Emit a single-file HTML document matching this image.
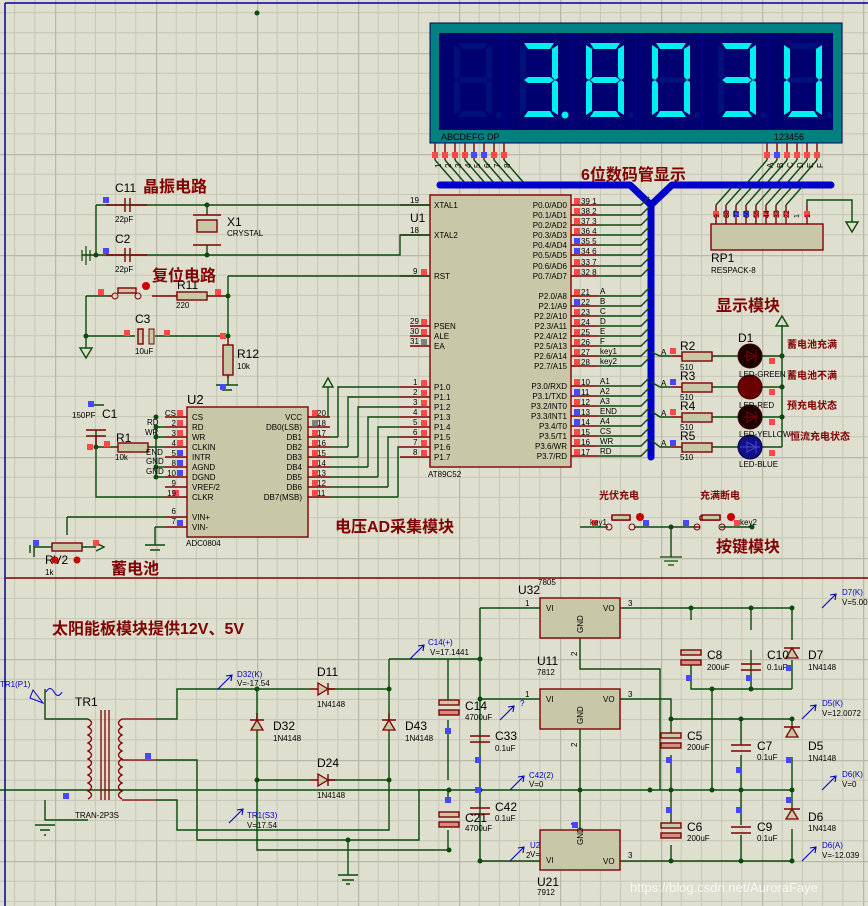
<!DOCTYPE html>
<html><head><meta charset="utf-8"><style>
html,body{margin:0;padding:0;background:#dfdfd0}
svg{display:block}
text{font-family:"Liberation Sans","Noto Sans CJK SC",sans-serif}
.w{stroke:#0a4a0a;stroke-width:1.4;fill:none}
.p{stroke:#800000;stroke-width:1.4;fill:none}
.b{fill:#c8c8a8;stroke:#800000;stroke-width:1.4}
.t{font-size:8px;fill:#000}
.n{font-size:12px;fill:#000}
.cn{font-family:"Liberation Sans","Noto Sans CJK SC",sans-serif;font-weight:bold;fill:#800000}
.pr{fill:#ff4848}.pb{fill:#4848ff}
.bl{font-size:8px;fill:#0000cc}
</style></head><body>
<svg width="868" height="906" viewBox="0 0 868 906" xmlns="http://www.w3.org/2000/svg">
<defs>
<pattern id="g" width="101" height="101" patternUnits="userSpaceOnUse" x="55" y="53">
<path d="M20.2 0V101M40.4 0V101M60.6 0V101M80.8 0V101M0 20.2H101M0 40.4H101M0 60.6H101M0 80.8H101" stroke="#c6c6b6" stroke-width="1"/>
<path d="M0 0V101M0 0H101" stroke="#b8b8a8" stroke-width="2.5"/>
</pattern>
<polygon id="sa" points="4,0 34,0 30,6 8,6"/>
<polygon id="sb" points="38,2 38,35 35,37 32,34 32,6"/>
<polygon id="sc" points="38,39 38,72 32,68 32,40 35,37"/>
<polygon id="sd" points="8,68 30,68 34,74 4,74"/>
<polygon id="se" points="0,39 3,37 6,40 6,68 0,72"/>
<polygon id="sf" points="0,2 6,6 6,34 3,37 0,35"/>
<polygon id="sg" points="4,37 8,34 30,34 34,37 30,40 8,40"/>
<g id="all" fill="#00107a"><use href="#sa"/><use href="#sb"/><use href="#sc"/><use href="#sd"/><use href="#se"/><use href="#sf"/><use href="#sg"/><circle cx="45" cy="72" r="3"/></g>
</defs>
<rect width="868" height="906" fill="url(#g)"/>
<path d="M5 3H868M5 3V906" stroke="#0000a0" stroke-width="1.5" fill="none"/>
<path d="M5 578H868" stroke="#800000" stroke-width="1.5"/>
<circle cx="257" cy="13" r="2.5" fill="#0a4a0a"/>

<!-- display -->
<rect x="430" y="23" width="412" height="120" fill="#008080" stroke="#000060"/>
<rect x="439" y="33" width="394" height="97" fill="#000070"/>
<g stroke="#000090" stroke-width="1"><path d="M505 33V130M571 33V130M636 33V130M702 33V130M768 33V130"/></g>
<g transform="translate(454,43)"><use href="#all"/></g>
<g transform="translate(520,43)"><use href="#all"/><g fill="#00f0f0"><use href="#sa"/><use href="#sb"/><use href="#sc"/><use href="#sd"/><use href="#sg"/><circle cx="45" cy="72" r="3.5"/></g></g>
<g transform="translate(586,43)"><use href="#all"/><g fill="#00f0f0"><use href="#sa"/><use href="#sb"/><use href="#sc"/><use href="#sd"/><use href="#se"/><use href="#sf"/><use href="#sg"/></g></g>
<g transform="translate(652,43)"><use href="#all"/><g fill="#00f0f0"><use href="#sa"/><use href="#sb"/><use href="#sc"/><use href="#sd"/><use href="#se"/><use href="#sf"/></g></g>
<g transform="translate(718,43)"><use href="#all"/><g fill="#00f0f0"><use href="#sa"/><use href="#sb"/><use href="#sc"/><use href="#sd"/><use href="#sg"/></g></g>
<g transform="translate(784,43)"><use href="#all"/><g fill="#00f0f0"><use href="#sb"/><use href="#sc"/><use href="#sd"/><use href="#se"/><use href="#sf"/></g></g>
<text x="441" y="140" font-size="9" fill="#000">ABCDEFG  DP</text>
<text x="774" y="140" font-size="9" fill="#000">123456</text>
<!-- display pins -->
<g class="p"><path d="M435 143V160M445 143V160M455 143V160M465 143V160M474 143V160M484 143V160M494 143V160M504 143V160M767 143V160M777 143V160M787 143V160M797 143V160M807 143V160M817 143V160"/></g>
<g class="w"><path d="M435 160L455 183M445 160L465 183M455 160L475 183M465 160L485 183M474 160L494 183M484 160L504 183M494 160L514 183M504 160L524 183M767 160L747 183M777 160L757 183M787 160L767 183M797 160L777 183M807 160L787 183M817 160L797 183"/></g>
<g class="pr"><rect x="432" y="152" width="6" height="6"/><rect x="442" y="152" width="6" height="6"/><rect x="452" y="152" width="6" height="6"/><rect x="462" y="152" width="6" height="6"/><rect x="491" y="152" width="6" height="6"/><rect x="501" y="152" width="6" height="6"/><rect x="764" y="152" width="6" height="6"/><rect x="784" y="152" width="6" height="6"/><rect x="794" y="152" width="6" height="6"/><rect x="804" y="152" width="6" height="6"/><rect x="814" y="152" width="6" height="6"/></g>
<g class="pb"><rect x="471" y="152" width="6" height="6"/><rect x="481" y="152" width="6" height="6"/><rect x="774" y="152" width="6" height="6"/></g>
<g font-size="8" fill="#000"><text transform="translate(441,168) rotate(-90)">1</text><text transform="translate(451,168) rotate(-90)">2</text><text transform="translate(461,168) rotate(-90)">3</text><text transform="translate(471,168) rotate(-90)">4</text><text transform="translate(480,168) rotate(-90)">5</text><text transform="translate(490,168) rotate(-90)">6</text><text transform="translate(500,168) rotate(-90)">7</text><text transform="translate(510,168) rotate(-90)">8</text>
<text transform="translate(773,168) rotate(-90)">A</text><text transform="translate(783,168) rotate(-90)">B</text><text transform="translate(793,168) rotate(-90)">C</text><text transform="translate(803,168) rotate(-90)">D</text><text transform="translate(813,168) rotate(-90)">E</text><text transform="translate(823,168) rotate(-90)">F</text></g>
<text x="581" y="180" class="cn" font-size="16">6位数码管显示</text>
<!-- bus -->
<path d="M440 185H630L651 205L672 185H831M651 205V457" stroke="#0000cc" stroke-width="7" fill="none" stroke-linecap="round" stroke-linejoin="round"/>

<!-- RP1 -->
<rect x="711" y="224" width="112" height="26" class="b"/>
<g class="p"><path d="M716 205V224M726 205V224M736 205V224M746 205V224M756 205V224M766 205V224M776 205V224M786 205V224M807 205V224"/></g>
<g class="w"><path d="M716 205L732 187M726 205L742 187M736 205L752 187M746 205L762 187M756 205L772 187M766 205L782 187M776 205L792 187M786 205L802 187M807 205V200H852V222"/><path d="M846 222H858L852 232Z"/></g>
<g class="pr"><rect x="713" y="211" width="6" height="6"/><rect x="723" y="211" width="6" height="6"/><rect x="753" y="211" width="6" height="6"/><rect x="763" y="211" width="6" height="6"/><rect x="773" y="211" width="6" height="6"/><rect x="783" y="211" width="6" height="6"/><rect x="804" y="211" width="6" height="6"/></g>
<g class="pb"><rect x="733" y="211" width="6" height="6"/><rect x="743" y="211" width="6" height="6"/></g>
<g font-size="7" fill="#000"><text transform="translate(719,218) rotate(-90)">9</text><text transform="translate(729,218) rotate(-90)">88</text><text transform="translate(739,218) rotate(-90)">77</text><text transform="translate(749,218) rotate(-90)">66</text><text transform="translate(759,218) rotate(-90)">55</text><text transform="translate(769,218) rotate(-90)">44</text><text transform="translate(779,218) rotate(-90)">33</text><text transform="translate(789,218) rotate(-90)">22</text><text transform="translate(799,218) rotate(-90)">1</text><text transform="translate(810,218) rotate(-90)">1</text></g>
<text x="711" y="262" class="n" font-size="11">RP1</text><text x="711" y="273" class="t" font-size="7">RESPACK-8</text>

<!-- U1 -->
<rect x="430" y="195" width="141" height="272" class="b"/>
<text x="410" y="222" class="n" font-size="13">U1</text>
<text x="428" y="477" class="t">AT89C52</text>
<g class="p"><path d="M400 205H430M400 235H430M400 276H430M410 326H430M410 336H430M410 346H430M400 387H430M400 397H430M400 407H430M400 417H430M400 427H430M400 437H430M400 447H430M400 457H430"/>
<path d="M571 205H598M571 215H598M571 225H598M571 235H598M571 245H598M571 255H598M571 266H598M571 276H598M571 296H598M571 306H598M571 316H598M571 326H598M571 336H598M571 346H598M571 356H598M571 366H598M571 386H598M571 396H598M571 406H598M571 416H598M571 426H598M571 436H598M571 446H598M571 456H598"/></g>
<g class="w"><path d="M598 205H641L649 197M598 215H641L649 207M598 225H641L649 217M598 235H641L649 227M598 245H641L649 237M598 255H641L649 247M598 266H641L649 258M598 276H641L649 268M598 296H641L649 288M598 306H641L649 298M598 316H641L649 308M598 326H641L649 318M598 336H641L649 328M598 346H641L649 338M598 356H641L649 348M598 366H641L649 358M598 386H641L649 378M598 396H641L649 388M598 406H641L649 398M598 416H641L649 408M598 426H641L649 418M598 436H641L649 428M598 446H641L649 438M598 456H641L649 448"/></g>
<g class="pr"><rect x="574" y="198" width="6" height="6"/><rect x="574" y="208" width="6" height="6"/><rect x="574" y="218" width="6" height="6"/><rect x="574" y="228" width="6" height="6"/><rect x="574" y="259" width="6" height="6"/><rect x="574" y="269" width="6" height="6"/><rect x="574" y="289" width="6" height="6"/><rect x="574" y="309" width="6" height="6"/><rect x="574" y="319" width="6" height="6"/><rect x="574" y="329" width="6" height="6"/><rect x="574" y="339" width="6" height="6"/><rect x="574" y="349" width="6" height="6"/><rect x="574" y="359" width="6" height="6"/><rect x="574" y="379" width="6" height="6"/><rect x="574" y="399" width="6" height="6"/><rect x="574" y="429" width="6" height="6"/><rect x="574" y="439" width="6" height="6"/><rect x="574" y="449" width="6" height="6"/>
<rect x="421" y="269" width="6" height="6"/><rect x="421" y="319" width="6" height="6"/><rect x="421" y="329" width="6" height="6"/><rect x="421" y="380" width="6" height="6"/><rect x="421" y="390" width="6" height="6"/><rect x="421" y="400" width="6" height="6"/><rect x="421" y="410" width="6" height="6"/><rect x="421" y="420" width="6" height="6"/><rect x="421" y="430" width="6" height="6"/><rect x="421" y="440" width="6" height="6"/><rect x="421" y="450" width="6" height="6"/></g>
<g class="pb"><rect x="574" y="238" width="6" height="6"/><rect x="574" y="248" width="6" height="6"/><rect x="574" y="299" width="6" height="6"/><rect x="574" y="389" width="6" height="6"/><rect x="574" y="409" width="6" height="6"/><rect x="574" y="419" width="6" height="6"/></g>
<rect x="421" y="339" width="6" height="6" fill="#808080"/>
<g class="t" font-size="7.5">
<text x="434" y="208">XTAL1</text><text x="434" y="238">XTAL2</text><text x="434" y="279">RST</text><text x="434" y="329">PSEN</text><text x="434" y="339">ALE</text><text x="434" y="349">EA</text>
<text x="434" y="390">P1.0</text><text x="434" y="400">P1.1</text><text x="434" y="410">P1.2</text><text x="434" y="420">P1.3</text><text x="434" y="430">P1.4</text><text x="434" y="440">P1.5</text><text x="434" y="450">P1.6</text><text x="434" y="460">P1.7</text>
<g text-anchor="end"><text x="567" y="208">P0.0/AD0</text><text x="567" y="218">P0.1/AD1</text><text x="567" y="228">P0.2/AD2</text><text x="567" y="238">P0.3/AD3</text><text x="567" y="248">P0.4/AD4</text><text x="567" y="258">P0.5/AD5</text><text x="567" y="269">P0.6/AD6</text><text x="567" y="279">P0.7/AD7</text>
<text x="567" y="299">P2.0/A8</text><text x="567" y="309">P2.1/A9</text><text x="567" y="319">P2.2/A10</text><text x="567" y="329">P2.3/A11</text><text x="567" y="339">P2.4/A12</text><text x="567" y="349">P2.5/A13</text><text x="567" y="359">P2.6/A14</text><text x="567" y="369">P2.7/A15</text>
<text x="567" y="389">P3.0/RXD</text><text x="567" y="399">P3.1/TXD</text><text x="567" y="409">P3.2/INT0</text><text x="567" y="419">P3.3/INT1</text><text x="567" y="429">P3.4/T0</text><text x="567" y="439">P3.5/T1</text><text x="567" y="449">P3.6/WR</text><text x="567" y="459">P3.7/RD</text></g>
<text x="581" y="204">39 1</text><text x="581" y="214">38 2</text><text x="581" y="224">37 3</text><text x="581" y="234">36 4</text><text x="581" y="244">35 5</text><text x="581" y="254">34 6</text><text x="581" y="265">33 7</text><text x="581" y="275">32 8</text>
<text x="581" y="295">21</text><text x="581" y="305">22</text><text x="581" y="315">23</text><text x="581" y="325">24</text><text x="581" y="335">25</text><text x="581" y="345">26</text><text x="581" y="355">27</text><text x="581" y="365">28</text>
<text x="581" y="385">10</text><text x="581" y="395">11</text><text x="581" y="405">12</text><text x="581" y="415">13</text><text x="581" y="425">14</text><text x="581" y="435">15</text><text x="581" y="445">16</text><text x="581" y="455">17</text>
<text x="600" y="294">A</text><text x="600" y="304">B</text><text x="600" y="314">C</text><text x="600" y="324">D</text><text x="600" y="334">E</text><text x="600" y="344">F</text><text x="600" y="354">key1</text><text x="600" y="364">key2</text>
<text x="600" y="384">A1</text><text x="600" y="394">A2</text><text x="600" y="404">A3</text><text x="600" y="414">END</text><text x="600" y="424">A4</text><text x="600" y="434">CS</text><text x="600" y="444">WR</text><text x="600" y="454">RD</text>
<text x="410" y="203">19</text><text x="410" y="233">18</text><text x="413" y="274">9</text><text x="410" y="324">29</text><text x="410" y="334">30</text><text x="410" y="344">31</text>
<text x="413" y="385">1</text><text x="413" y="395">2</text><text x="413" y="405">3</text><text x="413" y="415">4</text><text x="413" y="425">5</text><text x="413" y="435">6</text><text x="413" y="445">7</text><text x="413" y="455">8</text></g>

<!-- LEDs -->
<g class="w"><path d="M651 352L660 356H672M651 382L660 387H672M651 411L660 417H672M651 440L660 447H672M712 356H740M712 387H740M712 417H740M712 447H740M760 356H782M760 387H782M760 417H782M760 447H782M782 325V447"/><path d="M776 326L782 316L788 326Z"/></g>
<g class="p"><path d="M672 356H682M672 387H682M672 417H682M672 447H682"/></g>
<g class="b"><rect x="682" y="352" width="30" height="9"/><rect x="682" y="383" width="30" height="9"/><rect x="682" y="413" width="30" height="9"/><rect x="682" y="443" width="30" height="9"/></g>
<circle cx="750" cy="356" r="12" fill="#1a0000" stroke="#400000"/><circle cx="750" cy="387" r="12" fill="#6a0000" stroke="#400000"/><circle cx="750" cy="417" r="12" fill="#1a0000" stroke="#400000"/><circle cx="750" cy="447" r="12" fill="#10108a" stroke="#000040"/>
<g stroke="#700000" fill="none" stroke-width="1.2"><path d="M744 356H758M756 350V362M756 356L747 351V361Z"/><path d="M744 417H758M756 411V423M756 417L747 412V422Z"/><path d="M740 447H760M756 441V453M756 447L747 442V452Z" stroke="#4040c0"/></g>
<g fill="#800000"><circle cx="782" cy="356" r="2.5"/><circle cx="782" cy="387" r="2.5"/><circle cx="782" cy="417" r="2.5"/></g>
<g fill="#0a4a0a"><circle cx="782" cy="356" r="2.5"/><circle cx="782" cy="387" r="2.5"/><circle cx="782" cy="417" r="2.5"/></g>
<g class="pr"><rect x="670" y="348" width="6" height="6"/><rect x="670" y="409" width="6" height="6"/><rect x="769" y="358" width="6" height="6"/><rect x="769" y="389" width="6" height="6"/><rect x="769" y="419" width="6" height="6"/><rect x="769" y="450" width="6" height="6"/></g>
<g class="pb"><rect x="670" y="379" width="6" height="6"/><rect x="670" y="440" width="6" height="6"/></g>
<g class="t" font-size="7"><text x="661" y="355">A</text><text x="661" y="386">A</text><text x="661" y="416">A</text><text x="661" y="446">A</text></g>
<g class="n"><text x="680" y="350">R2</text><text x="680" y="380">R3</text><text x="680" y="410">R4</text><text x="680" y="440">R5</text><text x="738" y="342">D1</text></g>
<g class="t" font-size="7"><text x="680" y="370">510</text><text x="680" y="400">510</text><text x="680" y="430">510</text><text x="680" y="460">510</text><text x="739" y="377">LED-GREEN</text><text x="739" y="408">LED-RED</text><text x="739" y="437">LED-YELLOW</text><text x="739" y="467">LED-BLUE</text></g>
<text x="716" y="311" class="cn" font-size="16">显示模块</text>
<g class="cn" font-size="10"><text x="787" y="348">蓄电池充满</text><text x="787" y="379">蓄电池不满</text><text x="787" y="409">预充电状态</text><text x="790" y="440">恒流充电状态</text></g>

<!-- keys -->
<g class="w"><path d="M580 527H608M634 527H695M720 527H752M671 527V557"/><path d="M660 557H682M664 561H678M668 565H674" stroke-width="1.2"/></g>
<g class="p"><path d="M612 520H630M612 516H630V520M612 516V520M695 527H700M700 520H720M700 516H720V520M700 516V520"/></g>
<rect x="612" y="515" width="18" height="5" class="b"/><rect x="702" y="515" width="18" height="5" class="b"/>
<g fill="none" stroke="#800000"><circle cx="609" cy="527" r="3"/><circle cx="632" cy="527" r="3"/><circle cx="697" cy="527" r="3"/><circle cx="722" cy="527" r="3"/></g>
<circle cx="640" cy="517" r="4" fill="#cc0000"/><circle cx="731" cy="517" r="4" fill="#cc0000"/>
<g fill="#0a4a0a"><circle cx="671" cy="527" r="2.5"/><circle cx="752" cy="527" r="2.5"/></g>
<rect x="592" y="520" width="6" height="6" class="pr"/><rect x="643" y="520" width="6" height="6" class="pb"/><rect x="683" y="520" width="6" height="6" class="pb"/><rect x="734" y="520" width="6" height="6" class="pr"/>
<text x="590" y="525" class="t" font-size="7">key1</text><text x="740" y="525" class="t" font-size="7">key2</text>
<g class="cn" font-size="10"><text x="599" y="499">光伏充电</text><text x="700" y="499">充满断电</text></g>
<text x="716" y="552" class="cn" font-size="16">按键模块</text>

<!-- crystal / reset -->
<g class="w"><path d="M96 205H430M96 205V255M82 255H400V235H430M207 205V215M207 245V255M228 276H430M228 276V336M86 296H108M86 296V336M86 336V348M86 336H135M155 336H228M228 375V385"/><path d="M80 348H92L86 358Z"/><path d="M82 250V261M86 246V265M90 250V261" stroke-width="1.2"/><path d="M216 385H238M222 390H232"/></g>
<g class="p"><path d="M106 205H125M130 205H147M125 198V212M130 198V212M106 255H125M130 255H147M125 248V262M130 248V262M193 215H221M193 245H221M108 296H112M152 296H177M207 296H228M228 336V345M228 375V378"/></g>
<rect x="197" y="220" width="20" height="12" class="b"/>
<rect x="177" y="292" width="30" height="8" class="b"/><rect x="223" y="345" width="10" height="30" class="b"/>
<rect x="138" y="329" width="5" height="15" class="b"/><rect x="149" y="329" width="5" height="15" fill="#c8c8a8" stroke="#800000"/>
<rect x="118" y="288" width="18" height="5" class="b"/>
<g fill="none" stroke="#800000"><circle cx="115" cy="296" r="3"/><circle cx="138" cy="296" r="3"/></g>
<circle cx="146" cy="286" r="4" fill="#cc0000"/>
<g fill="#0a4a0a"><circle cx="96" cy="255" r="2.5"/><circle cx="207" cy="205" r="2.5"/><circle cx="207" cy="255" r="2.5"/><circle cx="228" cy="296" r="2.5"/><circle cx="228" cy="336" r="2.5"/><circle cx="86" cy="336" r="2.5"/></g>
<g class="pb"><rect x="103" y="197" width="6" height="6"/><rect x="103" y="248" width="6" height="6"/><rect x="220" y="384" width="6" height="6"/></g>
<g class="pr"><rect x="98" y="289" width="6" height="6"/><rect x="215" y="289" width="6" height="6"/><rect x="124" y="330" width="6" height="6"/><rect x="164" y="330" width="6" height="6"/><rect x="220" y="333" width="6" height="6"/></g>
<g class="n"><text x="115" y="192">C11</text><text x="115" y="243">C2</text><text x="227" y="226">X1</text><text x="177" y="289">R11</text><text x="135" y="323">C3</text><text x="237" y="358">R12</text></g>
<g class="t" font-size="7"><text x="115" y="222">22pF</text><text x="115" y="272">22pF</text><text x="227" y="236">CRYSTAL</text><text x="176" y="308">220</text><text x="135" y="354">10uF</text><text x="237" y="369">10k</text></g>
<text x="143" y="192" class="cn" font-size="16">晶振电路</text>
<text x="152" y="281" class="cn" font-size="16">复位电路</text>

<!-- U2 ADC -->
<rect x="187" y="407" width="121" height="130" class="b"/>
<g class="p"><path d="M165 417H187M165 427H187M165 437H187M165 447H187M165 457H187M165 467H187M165 477H187M165 487H187M165 497H187M165 517H187M165 527H187M308 417H330M308 427H330M308 437H330M308 447H330M308 457H330M308 467H330M308 477H330M308 487H330M308 497H330"/></g>
<g class="w"><path d="M156 427V477M156 467H165M156 477H165M156 427H165M156 437H165M96 447V497H165M96 447H115M96 430V447M147 447H165M67 517H165M67 517V535M155 527H165M155 527V545M328 417V387M338 437H338V387H400M348 447V397H400M358 457V407H400M368 467V417H400M378 477V427H400M388 487V437H400M398 497V447H400M330 437H338M330 447H348M330 457H358M330 467H368M330 477H378M330 487H388M330 497H398M92 405H104"/><path d="M323 387L328 378L333 387Z"/><path d="M145 545H165M150 550H160M145 545H165"/><path d="M30 545V553M34 541V557"/></g>
<g class="p"><path d="M86 430H106M86 436H106M96 436V447M115 447H118M138 447H147"/></g>
<rect x="118" y="443" width="30" height="9" class="b"/>
<rect x="52" y="543" width="30" height="8" class="b"/>
<g class="w"><path d="M34 547H52M82 547H96"/><path d="M96 543L104 547L96 551" /></g>
<g fill="#0a4a0a"><circle cx="156" cy="417" r="2.5"/><circle cx="156" cy="427" r="2.5"/><circle cx="156" cy="437" r="2.5"/><circle cx="156" cy="467" r="2.5"/><circle cx="156" cy="477" r="2.5"/><circle cx="96" cy="447" r="2.5"/></g>
<g class="pr"><rect x="177" y="410" width="6" height="6"/><rect x="177" y="420" width="6" height="6"/><rect x="177" y="430" width="6" height="6"/><rect x="177" y="440" width="6" height="6"/><rect x="173" y="490" width="6" height="6"/><rect x="312" y="410" width="6" height="6"/><rect x="312" y="430" width="6" height="6"/><rect x="312" y="440" width="6" height="6"/><rect x="312" y="450" width="6" height="6"/><rect x="312" y="460" width="6" height="6"/><rect x="312" y="470" width="6" height="6"/><rect x="312" y="480" width="6" height="6"/><rect x="312" y="490" width="6" height="6"/><rect x="104" y="441" width="6" height="6"/><rect x="87" y="444" width="6" height="6"/><rect x="93" y="540" width="6" height="6"/></g>
<g class="pb"><rect x="177" y="450" width="6" height="6"/><rect x="177" y="460" width="6" height="6"/><rect x="177" y="470" width="6" height="6"/><rect x="177" y="520" width="6" height="6"/><rect x="88" y="401" width="6" height="6"/><rect x="33" y="540" width="6" height="6"/></g>
<rect x="312" y="420" width="6" height="6" fill="#808080"/>
<g class="t" font-size="7.5"><text x="192" y="420">CS</text><text x="192" y="430">RD</text><text x="192" y="440">WR</text><text x="192" y="450">CLKIN</text><text x="192" y="460">INTR</text><text x="192" y="470">AGND</text><text x="192" y="480">DGND</text><text x="192" y="490">VREF/2</text><text x="192" y="500">CLKR</text><text x="192" y="520">VIN+</text><text x="192" y="530">VIN-</text>
<g text-anchor="end"><text x="302" y="420">VCC</text><text x="302" y="430">DB0(LSB)</text><text x="302" y="440">DB1</text><text x="302" y="450">DB2</text><text x="302" y="460">DB3</text><text x="302" y="470">DB4</text><text x="302" y="480">DB5</text><text x="302" y="490">DB6</text><text x="302" y="500">DB7(MSB)</text>
<text x="176" y="416">CS</text><text x="176" y="426">2</text><text x="176" y="436">3</text><text x="176" y="446">4</text><text x="176" y="456">5</text><text x="176" y="466">8</text><text x="176" y="476">10</text><text x="176" y="486">9</text><text x="176" y="496">19</text><text x="176" y="514">6</text><text x="176" y="524">7</text></g>
<text x="317" y="416">20</text><text x="317" y="426">18</text><text x="317" y="436">17</text><text x="317" y="446">16</text><text x="317" y="456">15</text><text x="317" y="466">14</text><text x="317" y="476">13</text><text x="317" y="486">12</text><text x="317" y="496">11</text>
<text x="147" y="425">RD</text><text x="145" y="435">WR</text><text x="146" y="455">END</text><text x="146" y="464">GND</text><text x="146" y="474">GND</text>
<text x="186" y="546">ADC0804</text><text x="72" y="418">150PF</text><text x="115" y="460">10k</text><text x="45" y="575">1k</text></g>
<g class="n"><text x="187" y="404" font-size="13">U2</text><text x="102" y="418">C1</text><text x="116" y="442">R1</text><text x="45" y="564">RV2</text></g>
<circle cx="77" cy="560" r="3.5" fill="#cc0000"/><circle cx="55" cy="560" r="3.5" fill="#cc0000"/>
<text x="335" y="532" class="cn" font-size="16">电压AD采集模块</text>
<text x="111" y="574" class="cn" font-size="16">蓄电池</text>

<!-- bottom: power -->
<text x="52" y="634" class="cn" font-size="16">太阳能板模块提供12V、5V</text>
<g class="w"><path d="M45 689V719H88M45 800V820H88M35 825H55M40 830H50M44 835H46M156 719H177V689H257M257 689V720M257 730V780M257 780H310M328 780H389M257 689H310M328 689H389M389 659V720M389 730V830H177V800H156M156 760H197V840H419V790H448M389 659H480M257 780V850H448M348 840V875M338 875H358M342 880H354M346 884H350M448 659V700M448 720V780M448 790V800M448 830V850"/>
<path d="M480 608V861M480 608H540M480 699H540M480 861H540M0 790H792M620 608H792M620 699H671V719H792M620 861H792M580 638V669H660V790M580 729V830M691 608V620M691 660V689H792M751 608V630M751 650V689M792 608V640M792 660V689M712 689V790M671 719V735M671 755V825M671 845V861M741 719V745M741 755V825M741 835V861M792 719V737M792 757V809M792 829V861"/></g>
<!-- transformer -->
<g fill="none" stroke="#800000" stroke-width="1.3"><path d="M88 719q7 4 0 8q7 4 0 8q7 4 0 8q7 4 0 8q7 4 0 8q7 4 0 8q7 4 0 8q7 4 0 8q7 4 0 8q7 4 0 8M122 719q-7 4 0 8q-7 4 0 8q-7 4 0 8q-7 4 0 8q-7 4 0 8q-7 4 0 8q-7 4 0 8q-7 4 0 8q-7 4 0 8q-7 4 0 8M101 710V800M105 710V800M109 710V800M122 719H156M122 760H156M122 800H156"/></g>
<g fill="none" stroke="#0000cc"><path d="M33 690L43 703L30 698Z"/><path d="M46 692q4 -7 8 0t8 0"/></g>
<text x="0" y="687" class="bl">TR1(P1)</text>
<text x="75" y="706" class="n">TR1</text><text x="75" y="818" class="t" font-size="7">TRAN-2P3S</text>
<rect x="145" y="753" width="6" height="6" class="pb"/><rect x="63" y="793" width="6" height="6" class="pb"/>
<!-- diodes -->
<g fill="#c8c8a8" stroke="#800000" stroke-width="1.3"><path d="M318 683L328 689L318 695Z"/><path d="M318 774L328 780L318 786Z"/><path d="M251 730L257 720L263 730Z"/><path d="M383 730L389 720L395 730Z"/></g>
<g class="p"><path d="M310 689H318M328 683V695M328 689H335M310 780H318M328 774V786M328 780H335M250 720H264M382 720H396M257 713V720M389 713V720"/></g>
<g fill="#0a4a0a"><circle cx="257" cy="689" r="2.5"/><circle cx="257" cy="780" r="2.5"/><circle cx="389" cy="689" r="2.5"/><circle cx="389" cy="780" r="2.5"/><circle cx="348" cy="840" r="2.5"/><circle cx="449" cy="790" r="2.5"/><circle cx="480" cy="790" r="2.5"/><circle cx="480" cy="699" r="2.5"/><circle cx="480" cy="659" r="2.5"/><circle cx="449" cy="850" r="2.5"/><circle cx="480" cy="861" r="2.5"/><circle cx="580" cy="790" r="2.5"/><circle cx="650" cy="790" r="2.5"/><circle cx="671" cy="790" r="2.5"/><circle cx="712" cy="790" r="2.5"/><circle cx="741" cy="790" r="2.5"/><circle cx="792" cy="790" r="2.5"/><circle cx="691" cy="608" r="2.5"/><circle cx="751" cy="608" r="2.5"/><circle cx="792" cy="608" r="2.5"/><circle cx="712" cy="689" r="2.5"/><circle cx="751" cy="689" r="2.5"/><circle cx="671" cy="719" r="2.5"/><circle cx="741" cy="719" r="2.5"/><circle cx="792" cy="719" r="2.5"/><circle cx="671" cy="861" r="2.5"/><circle cx="741" cy="861" r="2.5"/><circle cx="792" cy="861" r="2.5"/></g>
<g class="n"><text x="317" y="676">D11</text><text x="317" y="767">D24</text><text x="273" y="730">D32</text><text x="405" y="730">D43</text></g>
<g class="t" font-size="7"><text x="317" y="707">1N4148</text><text x="317" y="798">1N4148</text><text x="273" y="741">1N4148</text><text x="405" y="741">1N4148</text></g>
<!-- probes -->
<g fill="none" stroke="#0000cc" stroke-width="1.1"><path d="M218 689L232 675M226 676L232 675L231 681M229 823L243 809M237 810L243 809L242 815M410 659L424 645M418 646L424 645L423 651M500 720L514 706M508 707L514 706L513 712M510 790L524 776M518 777L524 776L523 782M510 861L524 847M518 848L524 847L523 853M822 608L836 594M830 595L836 594L835 600M802 719L816 705M810 706L816 705L815 711M822 790L836 776M830 777L836 776L835 782M802 861L816 847M810 848L816 847L815 853"/></g>
<g class="bl"><text x="237" y="677">D32(K)</text><text x="247" y="818">TR1(S3)</text><text x="428" y="645">C14(+)</text><text x="520" y="706">?</text><text x="529" y="778">C42(2)</text><text x="530" y="848">U21(VI)</text><text x="842" y="595">D7(K)</text><text x="822" y="706">D5(K)</text><text x="842" y="777">D6(K)</text><text x="822" y="848">D6(A)</text></g>
<g class="t" font-size="7"><text x="237" y="686">V=-17.54</text><text x="247" y="828">V=17.54</text><text x="430" y="655">V=17.1441</text><text x="529" y="787">V=0</text><text x="530" y="857">V=-17.2233</text><text x="842" y="605">V=5.000</text><text x="822" y="716">V=12.0072</text><text x="842" y="787">V=0</text><text x="822" y="858">V=-12.039</text></g>
<!-- regulators -->
<g class="b"><rect x="540" y="598" width="80" height="40"/><rect x="540" y="689" width="80" height="40"/><rect x="540" y="830" width="80" height="40"/></g>
<g class="t" font-size="7.5"><text x="546" y="611">VI</text><text x="603" y="611">VO</text><text x="546" y="702">VI</text><text x="603" y="702">VO</text><text x="546" y="863">VI</text><text x="603" y="864">VO</text>
<text transform="translate(583,633) rotate(-90)">GND</text><text transform="translate(583,724) rotate(-90)">GND</text><text transform="translate(583,845) rotate(-90)">GND</text>
<text x="525" y="606">1</text><text x="628" y="606">3</text><text x="525" y="697">1</text><text x="628" y="697">3</text><text x="526" y="858">2</text><text x="628" y="858">3</text>
<text transform="translate(577,656) rotate(-90)">2</text><text transform="translate(577,747) rotate(-90)">2</text><text transform="translate(577,826) rotate(-90)">1</text>
<text x="537" y="675">7812</text><text x="537" y="895">7912</text><text x="538" y="585">7805</text></g>
<g class="n"><text x="518" y="594">U32</text><text x="537" y="665">U11</text><text x="537" y="886">U21</text></g>
<!-- caps -->
<g class="b"><rect x="439" y="700" width="20" height="5"/><rect x="439" y="710" width="20" height="5" fill="#d09080"/><rect x="439" y="812" width="20" height="5"/><rect x="439" y="822" width="20" height="5" fill="#d09080"/><rect x="681" y="650" width="20" height="5"/><rect x="681" y="660" width="20" height="5" fill="#d09080"/><rect x="661" y="733" width="20" height="5"/><rect x="661" y="743" width="20" height="5" fill="#d09080"/><rect x="661" y="823" width="20" height="5"/><rect x="661" y="833" width="20" height="5" fill="#d09080"/></g>
<g class="p"><path d="M470 736H490M470 742H490M470 808H490M470 814H490M741 664H761M741 670H761M731 745H751M731 751H751M731 827H751M731 833H751"/></g>
<g fill="#c8c8a8" stroke="#800000" stroke-width="1.3"><path d="M786 658L792 648L798 658Z"/><path d="M786 737L792 727L798 737Z"/><path d="M786 819L792 809L798 819Z"/></g>
<g class="p"><path d="M784 648H800M784 727H800M784 809H800"/></g>
<g class="n"><text x="465" y="710">C14</text><text x="495" y="740">C33</text><text x="495" y="811">C42</text><text x="465" y="822">C21</text><text x="707" y="659">C8</text><text x="767" y="659">C10</text><text x="808" y="659">D7</text><text x="687" y="740">C5</text><text x="757" y="750">C7</text><text x="808" y="750">D5</text><text x="687" y="831">C6</text><text x="757" y="831">C9</text><text x="808" y="821">D6</text></g>
<g class="t" font-size="7"><text x="465" y="720">4700uF</text><text x="495" y="751">0.1uF</text><text x="495" y="821">0.1uF</text><text x="465" y="831">4700uF</text><text x="707" y="670">200uF</text><text x="767" y="670">0.1uF</text><text x="808" y="670">1N4148</text><text x="687" y="750">200uF</text><text x="757" y="760">0.1uF</text><text x="808" y="761">1N4148</text><text x="687" y="841">200uF</text><text x="757" y="841">0.1uF</text><text x="808" y="831">1N4148</text></g>
<g class="pb"><rect x="445" y="728" width="6" height="6"/><rect x="475" y="757" width="6" height="6"/><rect x="475" y="787" width="6" height="6"/><rect x="445" y="797" width="6" height="6"/><rect x="572" y="822" width="6" height="6"/><rect x="686" y="675" width="6" height="6"/><rect x="746" y="675" width="6" height="6"/><rect x="786" y="665" width="6" height="6"/><rect x="666" y="757" width="6" height="6"/><rect x="736" y="767" width="6" height="6"/><rect x="786" y="757" width="6" height="6"/><rect x="666" y="807" width="6" height="6"/><rect x="736" y="807" width="6" height="6"/><rect x="786" y="797" width="6" height="6"/></g>
<text x="630" y="892" font-size="13" fill="#ffffff" fill-opacity="0.75">https://blog.csdn.net/AuroraFaye</text>
</svg>
</body></html>
